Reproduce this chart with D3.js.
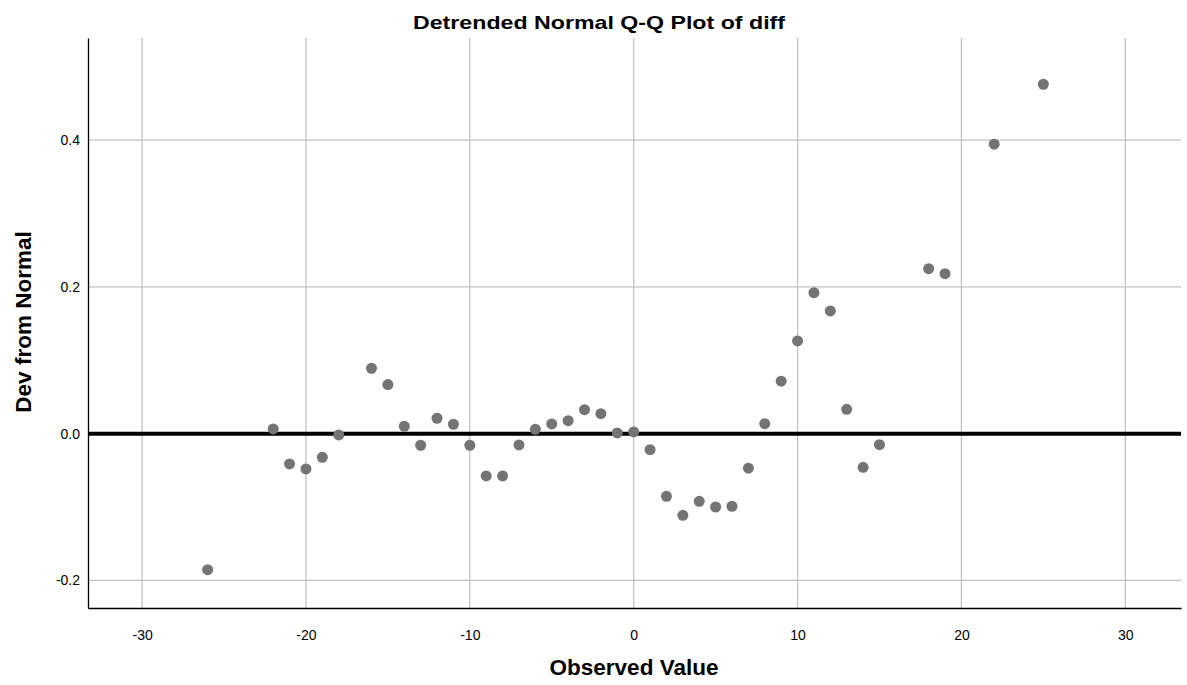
<!DOCTYPE html>
<html><head><meta charset="utf-8">
<script src="https://cdn.jsdelivr.net/npm/d3@7"></script>
<style>body{margin:0;background:#fff}svg{display:block}text{font-family:"Liberation Sans",Arial,sans-serif}</style>
</head><body><svg id="c" width="1187" height="685"></svg>
<script>
const observed = [-26,-22,-21,-20,-19,-18,-16,-15,-14,-13,-12,-11,-10,-9,-8,-7,-6,-5,-4,-3,-2,-1,0,1,2,3,4,5,6,7,8,9,10,11,12,13,14,15,18,19,22,25];
const deviation = [-0.1853,0.0064,-0.0413,-0.048,-0.0322,-0.0018,0.089,0.0668,0.0101,-0.0158,0.021,0.0128,-0.0158,-0.0576,-0.0576,-0.0154,0.006,0.0132,0.0177,0.0327,0.0272,0.001,0.0023,-0.0218,-0.0853,-0.1112,-0.0921,-0.0999,-0.0989,-0.0471,0.0136,0.0715,0.1263,0.1921,0.1672,0.0332,-0.0458,-0.015,0.2248,0.218,0.3943,0.476];
const xTicks = [-30,-20,-10,0,10,20,30];
const yTicks = [-0.2,0.0,0.2,0.4];
const title = "Detrended Normal Q-Q Plot of diff";
const xTitle = "Observed Value";
const yTitle = "Dev from Normal";

const svg = d3.select("#c");
const L = 88, R = 1181, T = 38, B = 608;
const x = d3.scaleLinear().domain([-33.3, 33.4]).range([L, R]);
const y = d3.scaleLinear().domain([-0.2375, 0.539]).range([B, T]);

// grid
svg.append("g").selectAll("line").data(xTicks).join("line")
  .attr("x1", d => x(d)).attr("x2", d => x(d)).attr("y1", T).attr("y2", B)
  .attr("stroke", "#c2c2c2").attr("stroke-width", 1.3);
svg.append("g").selectAll("line").data(yTicks).join("line")
  .attr("x1", L).attr("x2", R).attr("y1", d => y(d)).attr("y2", d => y(d))
  .attr("stroke", "#c2c2c2").attr("stroke-width", 1.3);

// axes
const xa = svg.append("g").attr("transform", `translate(0,${B})`)
  .call(d3.axisBottom(x).tickValues(xTicks).tickSize(0).tickPadding(22).tickFormat(d => String(d)));
xa.select(".domain").attr("stroke", "#000").attr("stroke-width", 1.3);
xa.selectAll("text").attr("font-size", 14).attr("fill", "#000");
const ya = svg.append("g").attr("transform", `translate(${L},0)`)
  .call(d3.axisLeft(y).tickValues(yTicks).tickSize(0).tickPadding(8).tickFormat(d => d3.format(".1f")(d).replace("−", "-")));
ya.select(".domain").attr("stroke", "#000").attr("stroke-width", 1.3);
ya.selectAll("text").attr("font-size", 14).attr("fill", "#000");

// reference line at zero
svg.append("line").attr("x1", L).attr("x2", R).attr("y1", y(0)).attr("y2", y(0))
  .attr("stroke", "#000").attr("stroke-width", 4);

// points
svg.append("g").selectAll("circle").data(observed).join("circle")
  .attr("cx", d => x(d)).attr("cy", (d, i) => y(deviation[i])).attr("r", 5.5)
  .attr("fill", "#747474");

// titles
svg.append("text").attr("x", 599).attr("y", 29).attr("text-anchor", "middle")
  .attr("font-size", 18.5).attr("font-weight", "bold")
  .attr("textLength", 372).attr("lengthAdjust", "spacingAndGlyphs").text(title);
svg.append("text").attr("x", 634).attr("y", 675).attr("text-anchor", "middle")
  .attr("font-size", 22.5).attr("font-weight", "bold").text(xTitle);
svg.append("text").attr("transform", "translate(31,322) rotate(-90)").attr("text-anchor", "middle")
  .attr("font-size", 22.5).attr("font-weight", "bold").text(yTitle);
</script></body></html>
